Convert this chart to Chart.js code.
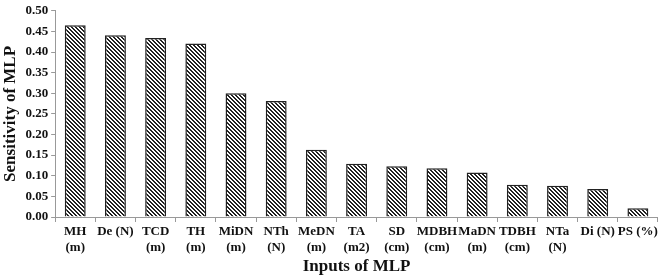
<!DOCTYPE html>
<html><head><meta charset="utf-8">
<script src="https://cdn.jsdelivr.net/npm/chart.js@4/dist/chart.umd.min.js"></script>
<style>html,body{margin:0;padding:0;background:#fff}#wrap{width:660px;height:277px}</style>
</head><body><div id="wrap"><canvas id="c"></canvas></div>
<script>
const categories = [["MH","(m)"],["De (N)"],["TCD","(m)"],["TH","(m)"],["MiDN","(m)"],["NTh","(N)"],["MeDN","(m)"],["TA","(m2)"],["SD","(cm)"],["MDBH","(cm)"],["MaDN","(m)"],["TDBH","(cm)"],["NTa","(N)"],["Di (N)"],["PS (%)"]];
const sensitivity = [0.465,0.441,0.434,0.421,0.300,0.281,0.163,0.129,0.123,0.118,0.108,0.078,0.076,0.068,0.021];
const yTicks = [0,0.05,0.10,0.15,0.20,0.25,0.30,0.35,0.40,0.45,0.50];

function hatch(){
  const p=document.createElement('canvas');p.width=4;p.height=4;
  const g=p.getContext('2d');g.fillStyle='#fff';g.fillRect(0,0,4,4);
  g.fillStyle='#222';
  for(let y=0;y<4;y++){g.fillRect(y,y,1,1);g.fillRect((y+1)%4,y,1,1);}
  return g.createPattern(p,'repeat');
}
const font = {family:'"Liberation Serif", "Times New Roman", serif', weight:'bold'};
new Chart(document.getElementById('c'),{
  type:'bar',
  data:{labels:categories,datasets:[{data:sensitivity,backgroundColor:hatch(),borderColor:'#222',borderWidth:1.5,categoryPercentage:1,barPercentage:0.52}]},
  options:{
    responsive:true,maintainAspectRatio:false,animation:false,
    layout:{padding:{top:6,right:2,left:0,bottom:0}},
    plugins:{legend:{display:false},tooltip:{enabled:false}},
    scales:{
      x:{afterFit:s=>{s.height=60;},
         grid:{display:true,drawOnChartArea:false,drawTicks:true,tickLength:5,color:'#999',offset:true},
         border:{color:'#999'},
         ticks:{color:'#111',font:{...font,size:13},maxRotation:0,autoSkip:false,padding:2},
         title:{display:true,text:'Inputs of MLP',color:'#111',font:{...font,size:17},padding:{top:0,bottom:0}}},
      y:{min:0,max:0.5,
         afterBuildTicks:s=>{s.ticks=yTicks.map(v=>({value:v}));},
         grid:{display:true,drawOnChartArea:false,drawTicks:true,tickLength:4,color:'#999'},
         border:{color:'#999'},
         ticks:{color:'#111',font:{...font,size:13},padding:3,callback:v=>v.toFixed(2)},
         title:{display:true,text:'Sensitivity of MLP',color:'#111',font:{...font,size:17},padding:{top:0,bottom:2}}}
    }
  }
});
</script></body></html>
